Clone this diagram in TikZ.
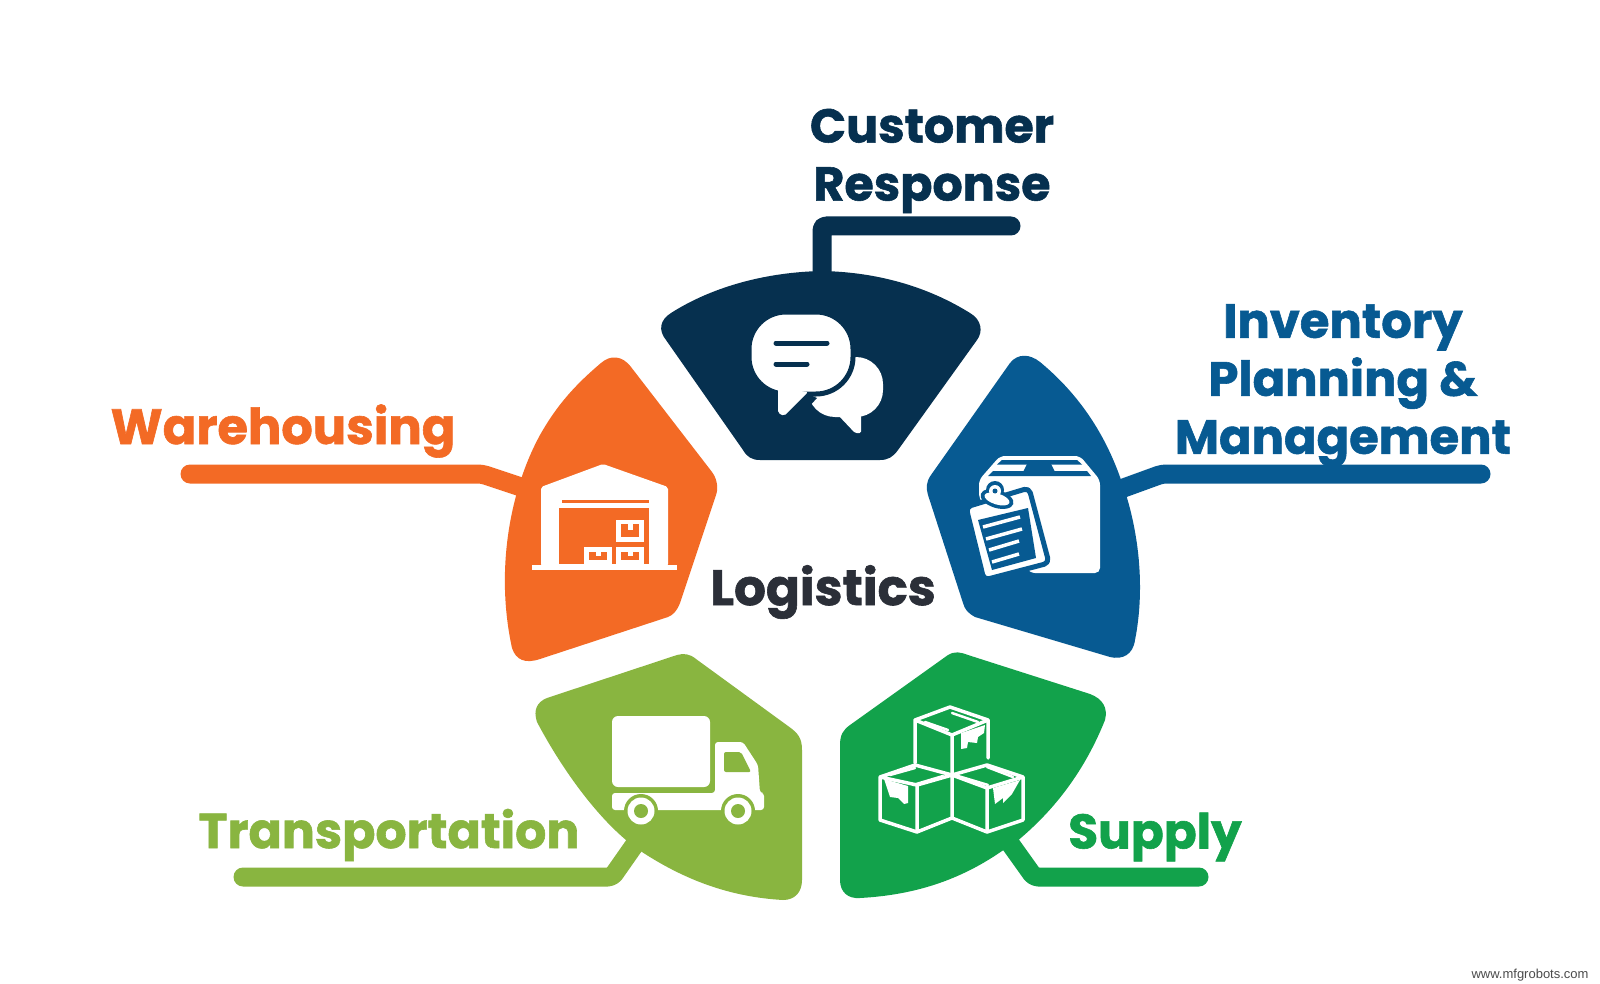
\documentclass[tikz,border=0pt]{standalone}
\usepackage{fontspec}
\setmainfont{Poppins}[BoldFeatures={FakeBold=1.2}]
\newfontfamily\wmfont{Liberation Sans}
\definecolor{navy}{HTML}{06304F}
\definecolor{blu}{HTML}{075A92}
\definecolor{ora}{HTML}{F36A25}
\definecolor{lgr}{HTML}{89B540}
\definecolor{grn}{HTML}{12A24B}
\definecolor{dark}{HTML}{2B2F38}
\tikzset{
 conn/.style={line width=19,line cap=round,rounded corners=4,line join=round},
 lab/.style={align=center,inner sep=0pt},
 wl/.style={draw=white,line width=3.5,line cap=round,line join=round},
 wf/.style={fill=white,draw=none}
}
\newcommand{\labfont}[1]{\fontsize{#1}{58}\selectfont\bfseries}
\begin{document}
\begin{tikzpicture}[x=1pt,y=-1pt]
\path[use as bounding box,fill=white] (0,0) rectangle (1600,984);
% ---------- segments
\fill[navy] (671,313) .. controls (715,285) and (770,272) .. (822,271) .. controls (874,272) and (925,285) .. (970,313) .. controls (982,320) and (983,332) .. (977,340) -- (898,450) .. controls (893,457) and (888,460) .. (880,460) -- (760,460) .. controls (752,460) and (747,457) .. (743,450) -- (666,340) .. controls (658,330) and (660,320) .. (671,313) -- cycle;
\fill[ora] (601,363) .. controls (610,355) and (622,355) .. (631,367) -- (712,472) .. controls (718,480) and (718,490) .. (716,495) -- (680,603) .. controls (677,611) and (673,615) .. (668,617) -- (540,659) .. controls (525,664) and (516,660) .. (512,648) .. controls (495,570) and (510,490) .. (540,435) .. controls (557,405) and (575,385) .. (601,363) -- cycle;
\fill[blu] (1010,363) .. controls (1018,353) and (1030,354) .. (1040,362) .. controls (1080,395) and (1105,435) .. (1120,477) .. controls (1140,530) and (1145,590) .. (1135,640) .. controls (1133,655) and (1122,660) .. (1110,657) -- (975,617) .. controls (968,613) and (965,610) .. (963,603) -- (928,495) .. controls (926,488) and (926,482) .. (931,475) -- cycle;
\fill[lgr] (547,698) -- (677,655) .. controls (684,653) and (690,654) .. (696,659) -- (788,726) .. controls (798,733) and (802,738) .. (802,750) -- (802,880) .. controls (802,892) and (795,900) .. (783,900) .. controls (730,897) and (685,880) .. (642,852) .. controls (605,828) and (565,775) .. (537,722) .. controls (533,710) and (537,702) .. (547,698) -- cycle;
\fill[grn] (948,655) .. controls (955,651) and (960,652) .. (968,655) -- (1090,694) .. controls (1103,699) and (1108,708) .. (1105,720) .. controls (1085,770) and (1055,810) .. (1016,842) -- (1002,851) .. controls (960,880) and (915,895) .. (860,898) .. controls (848,899) and (840,892) .. (840,880) -- (840,745) .. controls (840,735) and (843,730) .. (850,725) -- cycle;
% ---------- connector anchors
\coordinate (cA) at (822,275); \coordinate (cB) at (822,226); \coordinate (cC) at (1011,226);
\coordinate (wA) at (530,490); \coordinate (wB) at (482,474); \coordinate (wC) at (190,474);
\coordinate (iA) at (1118,490); \coordinate (iB) at (1162,474); \coordinate (iC) at (1481,474);
\coordinate (tA) at (640,837); \coordinate (tB) at (612,877); \coordinate (tC) at (243,877);
\coordinate (sA) at (1004,835); \coordinate (sB) at (1034,877); \coordinate (sC) at (1199,877);
\draw[conn,navy] (cA) -- (cB) -- (cC);
\draw[conn,ora] (wA) -- (wB) -- (wC);
\draw[conn,blu] (iA) -- (iB) -- (iC);
\draw[conn,lgr] (tA) -- (tB) -- (tC);
\draw[conn,grn] (sA) -- (sB) -- (sC);
% ---------- labels
\node[lab,navy,font=\labfont{47.5}] (customer) at (932,161) {Customer\\Response};
\node[lab,blu,font=\labfont{48}] (inventory) at (1343,385.5) {Inventory\\Planning \&\\Management};
\node[lab,ora,font=\labfont{49.5}] (warehousing) at (283,431) {Warehousing};
\node[lab,lgr,font=\labfont{49}] (transportation) at (389,835) {Transportation};
\node[lab,grn,font=\labfont{48.5}] (supply) at (1155,837) {Supply};
\node[lab,dark,font=\labfont{50}] (logistics) at (823,592) {Logistics};
\node[font=\wmfont\fontsize{13}{14}\selectfont,text=black!70,inner sep=0pt] (wm) at (1530,975) {www.mfgrobots.com};
% ---------- chat icon
\fill[white,rounded corners=27] (808,357) rectangle (883,417);
\fill[white,rounded corners=1.5] (838,415) -- (855,433) -- (861,433) -- (861,414) -- cycle;
\draw[fill=white,draw=navy,line width=5,rounded corners=37] (749,312) rectangle (853,394);
\fill[navy] (805,393) -- (817,398) -- (795,422) -- (775,422) -- (775,393) -- cycle;
\fill[white,rounded corners=2] (778,388) -- (778,413) -- (784,416) -- (808,392) -- cycle;
\draw[navy,line width=5,line cap=round] (776,343) -- (827,343);
\draw[navy,line width=5,line cap=round] (776,364) -- (807,364);
% ---------- warehouse icon
\fill[white,rounded corners=2] (541,566) -- (541,487) -- (603,464) -- (668,487) -- (668,566) -- cycle;
\fill[white] (532,565) rectangle (677,570);
\fill[ora] (559,508) rectangle (649,564);
\fill[ora] (562,500) rectangle (649,502.5);
\fill[white] (616,520) rectangle (644,542);
\fill[white] (584,547) rectangle (612,564);
\fill[white] (616,547) rectangle (644,564);
\fill[ora] (621,524) rectangle (639,537);
\fill[ora] (589,552) rectangle (607,560);
\fill[ora] (621,552) rectangle (639,560);
\fill[white] (628,524) rectangle (633,530);
\fill[white] (596,552) rectangle (601,556);
\fill[white] (628,552) rectangle (633,556);
% ---------- box and clipboard icon
\fill[white,rounded corners=5] (979,498) -- (979,480) -- (1000,456) -- (1080,456) -- (1100,480) -- (1100,573) -- (1030,573) -- (1000,530) -- cycle;
\fill[blu] (1002,460) -- (1077,460) -- (1082,464.5) -- (997,464.5) -- cycle;
\fill[blu] (993,471) -- (1087,471) -- (1091,476) -- (988,476) -- cycle;
\fill[blu] (1027,464) -- (1051,464) -- (1055,472) -- (1023,472) -- cycle;
\draw[fill=white,draw=blu,line width=5,rounded corners=5,line join=round] (966,507) -- (1029,488) -- (1049,563) -- (984,580) -- cycle;
\fill[blu] (978,520) -- (1028,508) -- (1036,558) -- (992,570) -- cycle;
\draw[white,line width=3.5] (983,527) -- (1020,517) (986,539) -- (1022,529) (989,550) -- (1019,541) (992,562) -- (1019,554);
\fill[blu,rotate around={-17:(997,499)}] (997,499) ellipse (17 and 9);
\fill[blu] (995,490) circle (9);
\fill[white,rotate around={-17:(997,499)}] (997,499) ellipse (13 and 5.5);
\fill[white] (995,491) circle (6);
\fill[blu] (995,491) circle (2.5);
% ---------- truck icon
\fill[white,rounded corners=6] (612,716) rectangle (710,787);
\fill[white,rounded corners=3] (612,793) -- (715,793) -- (715,742) -- (743,742) -- (758,765) -- (760,793) -- (764,793) -- (764,810) -- (612,810) -- cycle;
\fill[lgr,rounded corners=2] (724,752) -- (741,752) -- (751,772) -- (724,772) -- cycle;
\foreach \cx in {641,738}{
 \fill[lgr] (\cx,811) circle (17);
 \fill[white] (\cx,811) circle (13.5);
 \fill[lgr] (\cx,811) circle (7);
}
% ---------- cubes icon
\draw[wl] (915,763) -- (915,720) -- (950,707) -- (988,720) -- (988,758) (915,720) -- (952,735) -- (988,720) (952,735) -- (952,773);
\draw[wl] (952,775) -- (915,765) -- (880,777) -- (880,820) -- (917,832) -- (952,818) -- (952,775) -- (917,785) -- (880,777) (917,785) -- (917,832);
\draw[wl] (952,775) -- (987,765) -- (1023,777) -- (1023,820) -- (987,832) -- (952,818) (952,775) -- (987,788) -- (1023,777) (987,788) -- (987,832);
\draw[white,line width=2.5,line cap=round] (925,722) -- (948,730) (952,713) -- (978,722) (890,775) -- (915,768) (913,785) -- (943,776) (958,776) -- (988,785) (987,767) -- (1013,777);
\fill[white] (961,733) -- (961,749) -- (967,748) -- (968,742) -- (977,743) -- (978,737) -- (984,733) -- (985,725) -- cycle;
\fill[white] (884,779) -- (890,797) -- (898,798) -- (904,804) -- (908,803) -- (908,786) -- cycle;
\fill[white] (993,788) -- (995,804) -- (1003,798) -- (1003,803) -- (1012,794) -- (1020,780) -- cycle;
\end{tikzpicture}
\end{document}
